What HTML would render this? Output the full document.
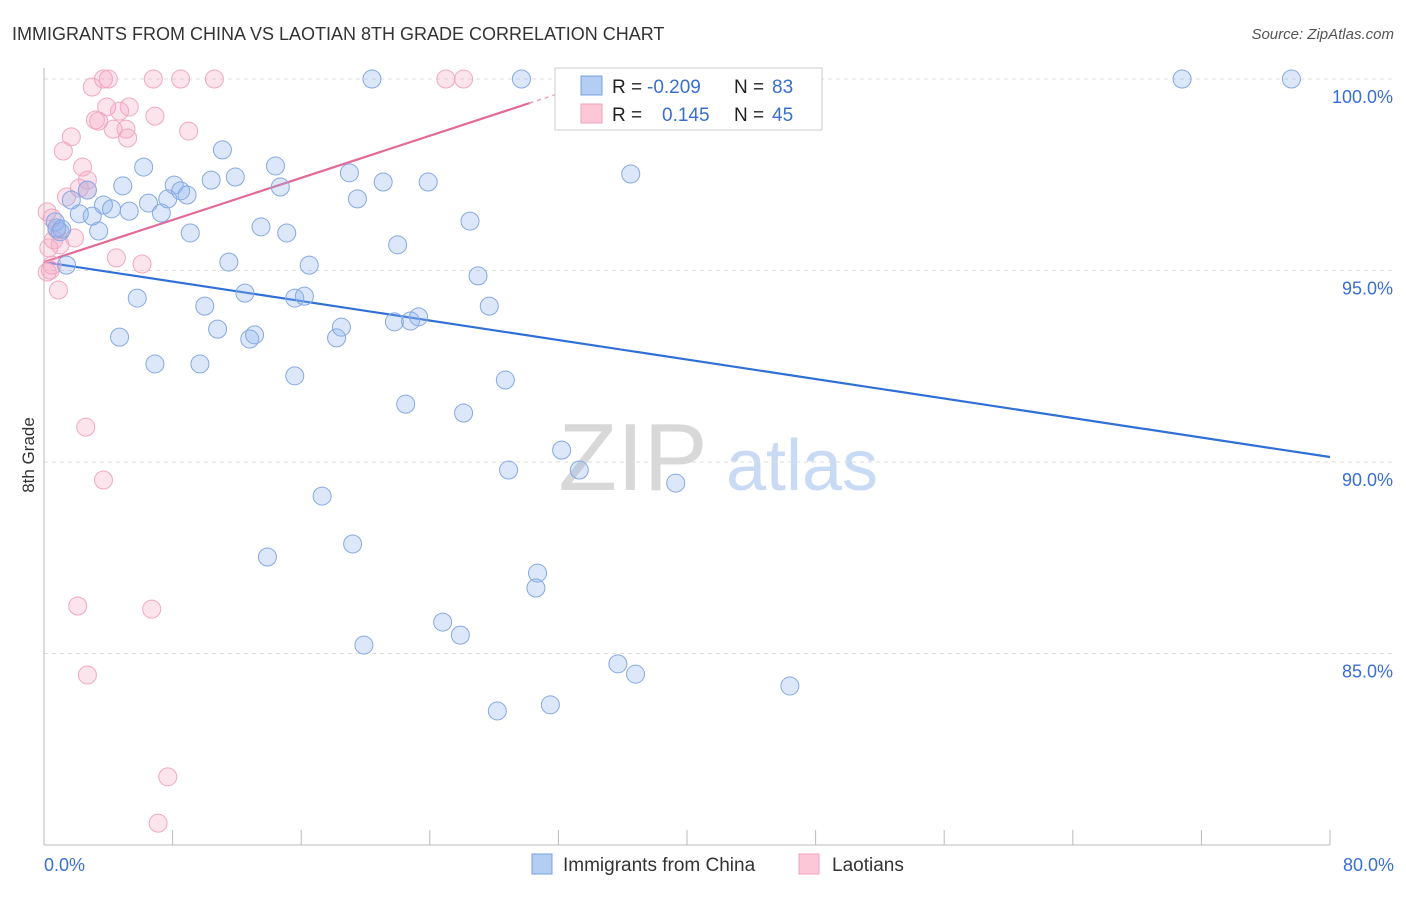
<!DOCTYPE html>
<html><head><meta charset="utf-8"><style>
body{margin:0;background:#fff;font-family:"Liberation Sans",sans-serif;}
svg text{font-family:"Liberation Sans",sans-serif;}
</style></head><body>
<svg id="chart" width="1406" height="892" xmlns="http://www.w3.org/2000/svg">
<text x="12" y="40" font-size="18" fill="#333">IMMIGRANTS FROM CHINA VS LAOTIAN 8TH GRADE CORRELATION CHART</text>
<text x="1394" y="39" font-size="15" fill="#555" text-anchor="end" font-style="italic">Source: ZipAtlas.com</text>
<text x="34" y="455" font-size="17" fill="#333" transform="rotate(-90 34 455)" text-anchor="middle">8th Grade</text>
<g>
<text x="633" y="490" font-size="96" fill="#d8d8d8" font-family="Liberation Serif" text-anchor="middle">ZIP</text>
<text x="802" y="490" font-size="72" fill="#c9daf4" text-anchor="middle">atlas</text>
</g>
<g id="grid"></g><g id="axes"></g><g id="trends"></g><g id="points"></g>
<g>
<rect x="555" y="68" width="267" height="62" fill="#fff" stroke="#ccc"/>
<rect x="581" y="76" width="21" height="19" fill="#b3cdf3" stroke="#7aa0e0"/>
<rect x="581" y="104" width="21" height="19" fill="#fcc8d8" stroke="#eea0b8"/>
<text x="612" y="93" font-size="19" fill="#222">R = </text><text x="647" y="93" font-size="19" fill="#3a6fd0">-0.209</text>
<text x="734" y="93" font-size="19" fill="#222">N = </text><text x="772" y="93" font-size="19" fill="#3a6fd0">83</text>
<text x="612" y="121" font-size="19" fill="#222">R = </text><text x="662" y="121" font-size="19" fill="#3a6fd0">0.145</text>
<text x="734" y="121" font-size="19" fill="#222">N = </text><text x="772" y="121" font-size="19" fill="#3a6fd0">45</text>
</g>
<g>
<rect x="532" y="854" width="20" height="20" fill="#b3cdf3" stroke="#7aa0e0"/>
<text x="563" y="871" font-size="19" fill="#333">Immigrants from China</text>
<rect x="799" y="854" width="20" height="20" fill="#fcc8d8" stroke="#eea0b8"/>
<text x="832" y="871" font-size="19" fill="#333">Laotians</text>
</g>
</svg>
<script>
const blueX=[0.7,1.0,1.4,0.8,1.1,1.7,2.2,2.7,3.0,3.4,3.7,4.2,4.9,5.3,5.8,4.7,6.2,6.5,6.9,7.3,7.7,8.1,8.5,8.9,9.1,9.7,10.0,10.4,10.8,11.1,11.5,11.9,12.5,12.8,13.1,13.5,14.4,14.7,15.1,15.6,15.6,16.2,16.5,17.3,18.2,18.5,19.0,19.2,19.5,19.9,20.4,21.1,21.8,22.0,22.5,22.8,23.3,23.9,24.8,25.9,26.1,26.5,27.0,27.7,28.2,28.7,28.9,29.7,30.7,30.6,31.5,32.2,32.6,33.3,34.6,35.7,36.5,36.8,39.3,46.4,70.8,77.6,13.9];
const blueY=[96.27,96.01,95.14,96.11,96.08,96.84,96.48,97.10,96.42,96.03,96.71,96.61,97.21,96.55,94.28,93.26,97.70,96.76,92.56,96.50,96.87,97.23,97.08,96.97,95.98,92.56,94.07,97.36,93.47,98.15,95.22,97.44,94.41,93.21,93.32,96.14,97.73,97.18,95.98,92.25,94.28,94.33,95.14,89.11,93.24,93.52,97.55,87.86,96.87,85.22,100,97.31,93.66,95.67,91.51,93.68,93.79,97.31,85.82,85.48,91.28,96.29,94.86,94.07,83.50,92.14,89.79,100,87.10,86.71,83.66,90.31,100,89.79,99.77,84.73,97.52,84.46,89.45,84.15,100,100,87.52];
const pinkX=[0.2,0.3,0.4,0.5,0.6,0.8,0.9,1.2,1.4,1.7,1.9,2.1,2.2,2.4,2.6,2.7,2.7,3.0,3.2,3.4,3.7,4.0,3.9,4.3,4.5,4.7,5.1,5.2,5.3,6.1,6.7,6.8,6.9,7.1,7.7,8.5,9.0,10.6,25.0,26.1,3.7,0.2,0.5,1.0,2.7];
const pinkY=[96.53,95.59,95.01,95.14,95.80,96.06,94.49,98.12,96.92,98.49,95.85,86.24,97.15,97.70,90.91,84.44,97.36,99.79,98.93,98.90,100,100,99.27,98.69,95.33,99.16,98.69,98.46,99.27,95.17,86.16,100,99.03,80.57,81.78,100,98.64,100,100,100,89.53,94.96,96.37,95.67,97.10];
const blueTrend=[95.22,90.13]; // y at x=0 and x=80
const pinkTrend=[95.22,99.37]; // y at x=0 and x=30.2
const yTicks=[100,95,90,85];
const xTicks=[0,8,16,24,32,40,48,56,64,72,80];
const NS="http://www.w3.org/2000/svg";
const sx=v=>44+v*16.075, sy=v=>79+(100-v)*38.3;
function mk(p,tag,a){const e=document.createElementNS(NS,tag);for(const k in a)e.setAttribute(k,a[k]);p.appendChild(e);return e;}
const grid=document.getElementById('grid'),axes=document.getElementById('axes');
yTicks.forEach(t=>{
 const l=mk(grid,'line',{x1:44,x2:1394,y1:sy(t),y2:sy(t),stroke:'#ddd','stroke-dasharray':'4,4'});
 
 
 const tx=mk(axes,'text',{x:1393,y:sy(t)+24,'font-size':18,fill:'#3a6fd0','text-anchor':'end'});tx.textContent=t.toFixed(1)+'%';
 
 
});
const ax=mk(axes,'line',{x1:44,x2:1330,y1:845,y2:845,stroke:'#bbb'});


const ay=mk(axes,'line',{x1:44,x2:44,y1:68,y2:845,stroke:'#bbb'});


xTicks.forEach((t)=>{const l=mk(axes,'line',{x1:sx(t),x2:sx(t),y1:830,y2:845,stroke:'#bbb'});
 
 });
[[0,'0.0%','start',44],[80,'80.0%','end',1394]].forEach(([v,s,a,x])=>{const tx=mk(axes,'text',{x:x,y:871,'font-size':18,fill:'#3a6fd0','text-anchor':a});tx.textContent=s;
 
 });
const pts=document.getElementById('points');
function draw(X,Y,fill,stroke,name){X.forEach((x,i)=>{const c=mk(pts,'circle',{cx:sx(x),cy:sy(Y[i]),r:9,fill:fill,stroke:stroke,'stroke-width':1});
 
 });}
draw(pinkX,pinkY,'rgba(245,165,195,0.3)','#f0a8c0','laotian-point');
draw(blueX,blueY,'rgba(140,178,238,0.3)','#86a8e2','china-point');
const tr=document.getElementById('trends');
const bl=mk(tr,'line',{x1:sx(0),y1:sy(blueTrend[0]),x2:sx(80),y2:sy(blueTrend[1]),stroke:'#2f6fd6','stroke-width':2.2});


const pl=mk(tr,'line',{x1:sx(0),y1:sy(pinkTrend[0]),x2:sx(30.2),y2:sy(pinkTrend[1]),stroke:'#e46a96','stroke-width':2.2});


const sl=(pinkTrend[1]-pinkTrend[0])/30.2;
const pd=mk(tr,'line',{x1:sx(30.2),y1:sy(pinkTrend[1]),x2:sx(32),y2:sy(pinkTrend[0]+sl*32),stroke:'#f0a0bc','stroke-width':1.5,'stroke-dasharray':'4,4'});


</script>
</body></html>
